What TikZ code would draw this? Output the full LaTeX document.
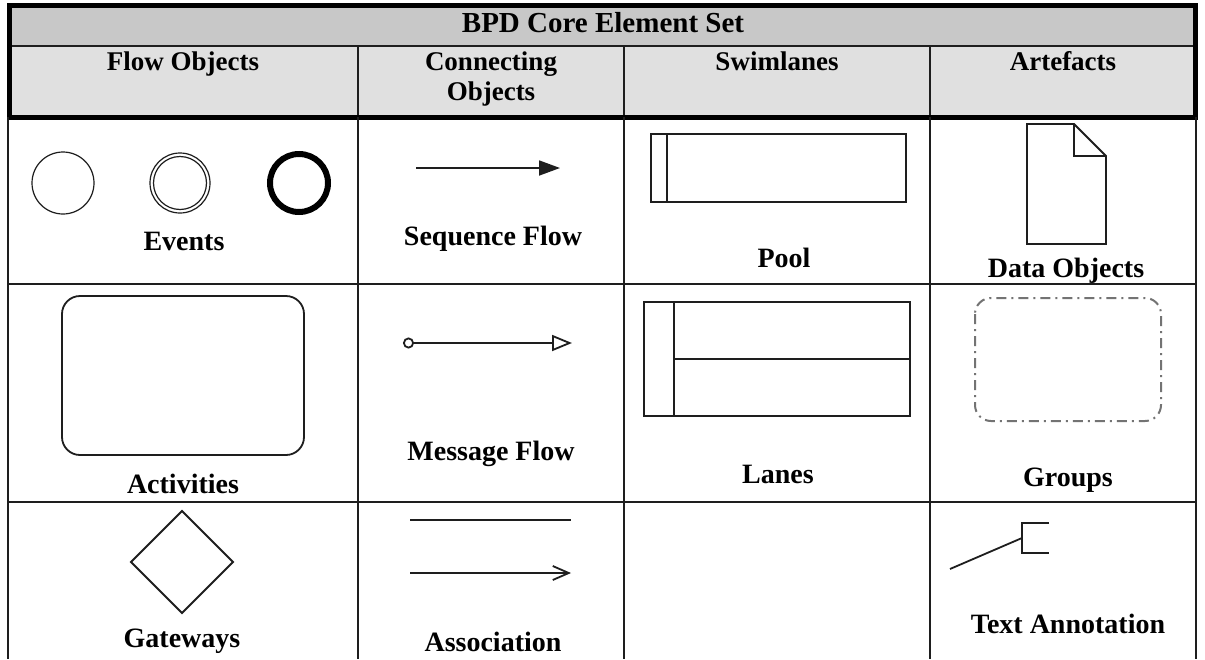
\documentclass[tikz,border=0pt]{standalone}
\usepackage{fontspec}
\setmainfont{Liberation Serif}
\usetikzlibrary{arrows.meta}
\definecolor{titlegray}{RGB}{200,200,200}
\definecolor{headgray}{RGB}{224,224,224}
\definecolor{inkc}{RGB}{30,30,30}
\begin{document}
\begin{tikzpicture}[x=0.5pt,y=-0.5pt,
  gridline/.style={line width=1pt, draw=inkc},
  thickframe/.style={line width=2.5pt, draw=black},
  shapeline/.style={line width=0.9pt, draw=inkc},
  lbl/.style={anchor=base, inner sep=0pt, font=\bfseries\fontsize{14}{16}\selectfont},
  hdr/.style={anchor=base, inner sep=0pt, font=\bfseries\fontsize{13.5}{16}\selectfont},
  ttl/.style={anchor=base, inner sep=0pt, font=\bfseries\fontsize{14.5}{17}\selectfont}]
\useasboundingbox (0,0) rectangle (1205,659);
\fill[white] (0,0) rectangle (1205,659);
% header backgrounds
\fill[titlegray] (9,5) rectangle (1195,46);
\fill[headgray] (9,46) rectangle (1195,117);
% header grid
\draw[gridline] (9,46) -- (1195,46);
\draw[gridline] (358,46) -- (358,117);
\draw[gridline] (624,46) -- (624,117);
\draw[gridline] (930,46) -- (930,117);
\draw[thickframe] (9,5) rectangle (1195,117);
% body grid
\draw[gridline] (8,117) -- (8,659);
\draw[gridline] (1196,117) -- (1196,659);
\draw[gridline] (358,117) -- (358,659);
\draw[gridline] (624,117) -- (624,659);
\draw[gridline] (930,117) -- (930,659);
\draw[gridline] (8,284) -- (1196,284);
\draw[gridline] (8,502) -- (1196,502);
% header texts
\node[ttl] (title) at (603,32) {BPD Core Element Set};
\node[hdr] (hflow) at (183,70) {Flow Objects};
\node[hdr] (hconn1) at (491,70) {Connecting};
\node[hdr] (hconn2) at (491,100) {Objects};
\node[hdr] (hswim) at (777,70) {Swimlanes};
\node[hdr] (hart) at (1063,70) {Artefacts};
% ---- Flow objects ----
\draw[line width=0.6pt, draw=inkc] (63,183) circle (31);
\draw[line width=0.6pt, draw=inkc] (180,183) circle (30);
\draw[line width=0.6pt, draw=inkc] (180,183) circle (26.5);
\draw[line width=3pt, draw=black] (299,183) circle (29);
\node[lbl] (events) at (184,250) {Events};
\draw[shapeline, rounded corners=9pt] (62,296) rectangle (304,455);
\node[lbl] (activities) at (183,493) {Activities};
\draw[shapeline] (182,511) -- (233,562) -- (182,613) -- (131,562) -- cycle;
\node[lbl] (gateways) at (182,647) {Gateways};
% ---- Connecting objects ----
\coordinate (sfa) at (416,168);
\coordinate (sfb) at (560,168);
\draw[shapeline, -{Triangle[length=10.5pt,width=7.5pt]}] (sfa) -- (sfb);
\node[lbl] (seqflow) at (493,245) {Sequence Flow};
\coordinate (mfa) at (403,343);
\coordinate (mfb) at (572,343);
\draw[shapeline, {Circle[open,length=5.5pt,width=5.5pt]}-{Triangle[open,length=10pt,width=8pt]}] (mfa) -- (mfb);
\node[lbl] (msgflow) at (491,460) {Message Flow};
\coordinate (asa) at (410,520);
\coordinate (asb) at (571,520);
\draw[shapeline] (asa) -- (asb);
\coordinate (aca) at (410,573);
\coordinate (acb) at (571,573);
\draw[shapeline, -{Straight Barb[length=8pt,width=7pt]}] (aca) -- (acb);
\node[lbl] (assoc) at (493,651) {Association};
% ---- Swimlanes ----
\draw[shapeline] (651,134) rectangle (906,202);
\draw[shapeline] (667,134) -- (667,202);
\node[lbl] (pool) at (784,267) {Pool};
\draw[shapeline] (644,302) rectangle (910,416);
\draw[shapeline] (674,302) -- (674,416);
\draw[shapeline] (674,359) -- (910,359);
\node[lbl] (lanes) at (778,483) {Lanes};
% ---- Artefacts ----
\draw[shapeline] (1027,124) -- (1074,124) -- (1106,156) -- (1106,244) -- (1027,244) -- cycle;
\draw[shapeline] (1074,124) -- (1074,156) -- (1106,156);
\node[lbl] (dataobj) at (1066,277) {Data Objects};
\draw[line width=1pt, draw=black!55, rounded corners=8pt,
      dash pattern=on 5pt off 2.5pt on 1pt off 2.5pt] (975,298) rectangle (1161,421);
\node[lbl] (groups) at (1068,486) {Groups};
\coordinate (tab) at (950,569);
\coordinate (tam) at (1022,538);
\draw[shapeline] (tab) -- (tam);
\draw[shapeline] (1049,523) -- (1022,523) -- (1022,553) -- (1049,553);
\node[lbl] (textann) at (1068,633) {Text Annotation};
\end{tikzpicture}
\end{document}
